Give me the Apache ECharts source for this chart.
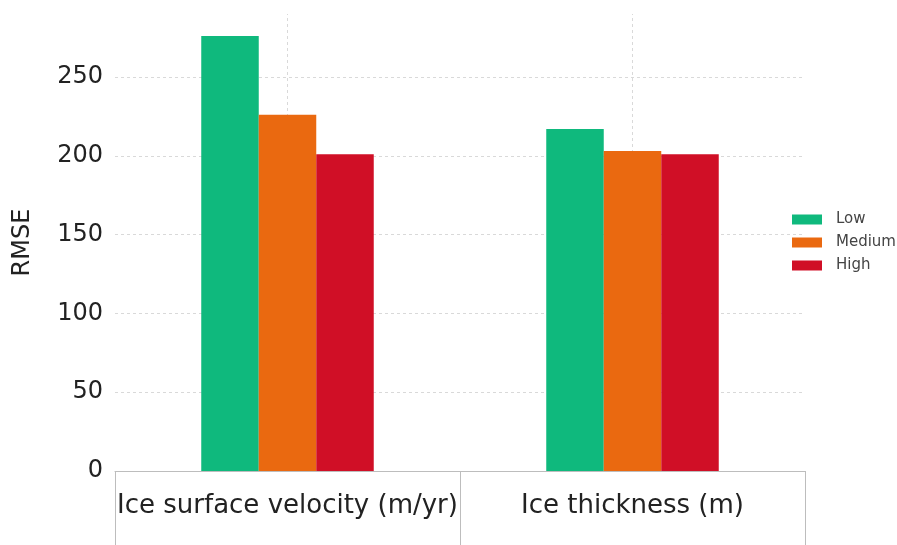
<!DOCTYPE html>
<html>
<head>
<meta charset="utf-8">
<script src="https://cdn.jsdelivr.net/npm/echarts@6/dist/echarts.min.js"></script>
<style>
html,body{margin:0;padding:0;background:#fff;}
#chart{width:897px;height:545px;}
</style>
</head>
<body>
<div id="chart"></div>
<script>
const categories = ['Ice surface velocity (m/yr)', 'Ice thickness (m)'];
const seriesNames = ['Low', 'Medium', 'High'];
const lowValues = [276, 217];
const mediumValues = [226, 203];
const highValues = [201, 201];
const yTicks = [0, 50, 100, 150, 200, 250];
const gridTicks = [50, 100, 150, 200, 250];
const colors = ['#0fb97d', '#ea6910', '#d00f26'];

const font = 'DejaVu Sans';
const chart = echarts.init(document.getElementById('chart'));
const gridLineStyle = { type: [3, 3], color: '#d9d9d9', width: 1 };

chart.setOption({
  animation: false,
  backgroundColor: '#fff',
  grid: { left: 115, right: 92, top: 14, bottom: 74, containLabel: false },
  legend: {
    orient: 'vertical',
    left: 787,
    top: 207,
    data: seriesNames,
    itemWidth: 30,
    itemHeight: 10,
    itemGap: 8,
    icon: 'rect',
    textStyle: { fontFamily: font, fontSize: 15, color: '#444', padding: [0, 0, 0, 9] }
  },
  xAxis: {
    type: 'category',
    data: categories,
    boundaryGap: true,
    axisLine: { show: true, lineStyle: { color: '#bdbdbd', width: 1 } },
    axisTick: { show: true, interval: 0, length: 75, lineStyle: { color: '#bdbdbd', width: 1 } },
    axisLabel: { interval: 0, fontFamily: font, fontSize: 26, color: '#222', margin: 22, hideOverlap: false },
    splitLine: { show: false }
  },
  yAxis: {
    type: 'value',
    min: 0,
    max: 290,
    interval: 50,
    name: 'RMSE',
    nameLocation: 'middle',
    nameGap: 80,
    nameTextStyle: { fontFamily: font, fontSize: 24, color: '#222' },
    axisLine: { show: false },
    axisTick: { show: false },
    splitLine: { show: false },
    axisLabel: {
      fontFamily: font, fontSize: 24, color: '#222', margin: 12,
      showMaxLabel: false,
      formatter: v => (yTicks.indexOf(v) >= 0 ? String(v) : '')
    }
  },
  series: [
    {
      type: 'line',
      data: [],
      silent: true,
      markLine: {
        silent: true,
        z: 1,
        symbol: 'none',
        label: { show: false },
        lineStyle: gridLineStyle,
        emphasis: { disabled: true },
        data: gridTicks.map(v => ({ yAxis: v })).concat(categories.map(c => ({ xAxis: c })))
      }
    },
    { name: 'Low', type: 'bar', data: lowValues, itemStyle: { color: colors[0] }, barGap: 0, barCategoryGap: '50%', z: 3 },
    { name: 'Medium', type: 'bar', data: mediumValues, itemStyle: { color: colors[1] }, barGap: 0, barCategoryGap: '50%', z: 3 },
    { name: 'High', type: 'bar', data: highValues, itemStyle: { color: colors[2] }, barGap: 0, barCategoryGap: '50%', z: 3 }
  ]
});
</script>
</body>
</html>
